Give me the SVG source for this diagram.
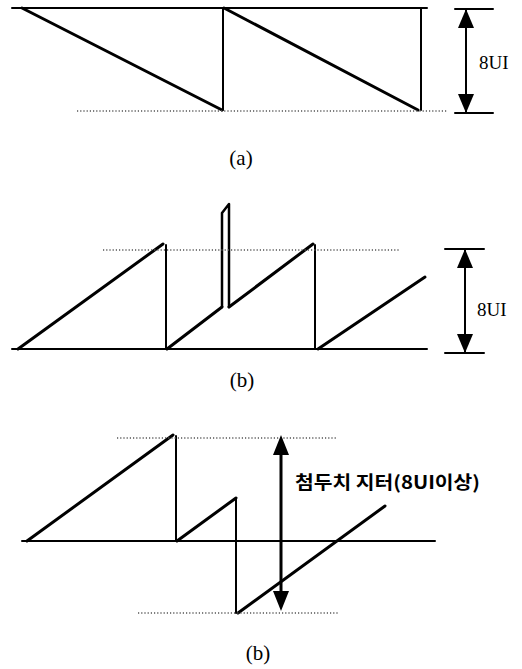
<svg xmlns="http://www.w3.org/2000/svg" width="522" height="669" viewBox="0 0 522 669">
<style>
.bg{fill:#ffffff}
.w{fill:none;stroke:#000;stroke-linecap:round;stroke-linejoin:round}
.thick{stroke-width:3}
.thin{stroke-width:2}
.dot{fill:none;stroke:#555;stroke-width:1.3;stroke-dasharray:1.2 2}
.head{fill:#000}
.lbl{font-family:"Liberation Serif","Times New Roman",serif;font-size:19px;fill:#000}
.cap{font-family:"Liberation Serif","Times New Roman",serif;font-size:21px;fill:#000}
.kr{font-family:"Noto Sans CJK KR","Noto Sans",sans-serif;font-size:18px;font-weight:bold;fill:#000}
</style>
<rect class="bg" x="0" y="0" width="522" height="669"/>

<g id="panel-a">
  <g id="a-waveform">
    <path class="w thin" d="M12 8 H427"/>
    <path class="w thick" d="M22 8 L222 110"/>
    <path class="w thin" d="M223 110 V8"/>
    <path class="w thick" d="M224 8 L418 110"/>
    <path class="w thin" d="M421 110 V8"/>
    <path class="dot" d="M77 111 H447"/>
  </g>
  <g id="a-scale">
    <path class="w thin" d="M455 9 H493 M455 113 H493 M466 9 V113"/>
    <polygon class="head" points="466,9 458,28 474,28"/>
    <polygon class="head" points="466,113 458,94 474,94"/>
    <text class="lbl" x="479" y="69">8UI</text>
  </g>
  <text class="cap" x="241" y="165" text-anchor="middle">(a)</text>
</g>

<g id="panel-b">
  <g id="b-waveform">
    <path class="w thin" d="M12 349 H427"/>
    <path class="w thick" d="M18 349 L163 244"/>
    <path class="w thin" d="M166 245 V349"/>
    <path class="w thick" d="M167 349 L222 307"/>
    <path class="w thin" d="M222 307 V213 L229 204 V307" style="stroke-width:2.5"/>
    <path class="w thick" d="M229 307 L313 244"/>
    <path class="w thin" d="M315 245 V349"/>
    <path class="w thick" d="M318 349 L425 277"/>
    <path class="dot" d="M103 250 H400"/>
  </g>
  <g id="b-scale">
    <path class="w thin" d="M445 249 H484 M445 353 H484 M465 249 V353"/>
    <polygon class="head" points="465,249 457,268 473,268"/>
    <polygon class="head" points="465,353 457,334 473,334"/>
    <text class="lbl" x="477" y="316">8UI</text>
  </g>
  <text class="cap" x="242" y="387" text-anchor="middle">(b)</text>
</g>

<g id="panel-c">
  <g id="c-waveform">
    <path class="w thin" d="M22 541 H435"/>
    <path class="w thick" d="M27 541 L173 435"/>
    <path class="w thin" d="M176 436 V541"/>
    <path class="w thick" d="M177 541 L236 498"/>
    <path class="w thin" d="M236 498 V613"/>
    <path class="w thick" d="M238 613 L385 506"/>
    <path class="dot" d="M117 438 H337"/>
    <path class="dot" d="M138 613 H338"/>
  </g>
  <g id="c-scale">
    <path class="w thick" d="M281 450 V595"/>
    <polygon class="head" points="281,435 273,455 289,455"/>
    <polygon class="head" points="281,611 273,591 289,591"/>
    <text class="kr" x="295" y="489" textLength="185" lengthAdjust="spacingAndGlyphs">첨두치  지터(8UI이상)</text>
  </g>
  <text class="cap" x="258" y="660" text-anchor="middle">(b)</text>
</g>
</svg>
